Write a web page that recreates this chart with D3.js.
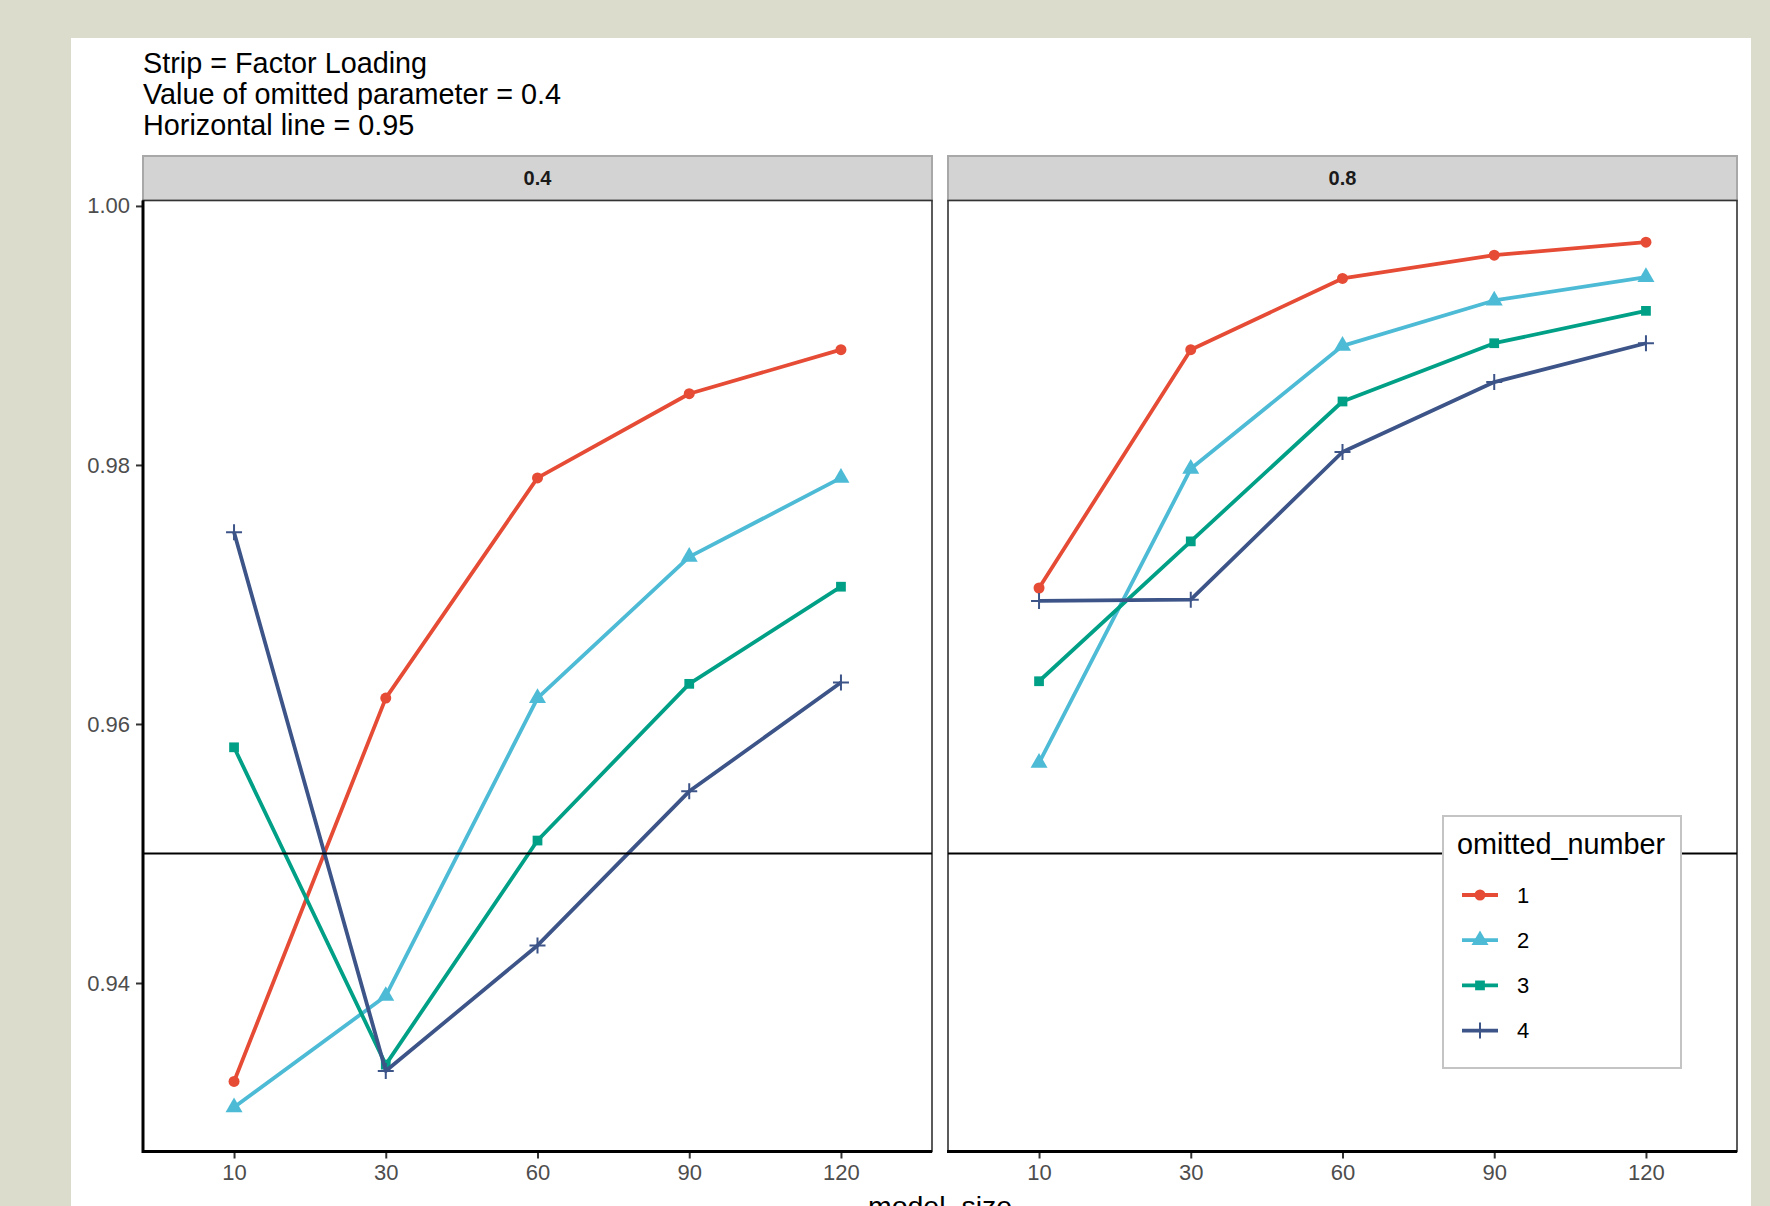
<!DOCTYPE html>
<html>
<head>
<meta charset="utf-8">
<script src="https://cdn.jsdelivr.net/npm/d3@7"></script>
<style>
  html, body { margin: 0; padding: 0; background: #dcdccd; }
  svg { display: block; }
  text { font-family: "Liberation Sans", Arial, Helvetica, sans-serif; }
</style>
</head>
<body>
<svg id="chart" width="1770" height="1206"></svg>
<script>
// ---- data ----
const modelSizes = ["10", "30", "60", "90", "120"];
const facetLabels = ["0.4", "0.8"];
const omittedNumbers = ["1", "2", "3", "4"];
const yTicks = [0.94, 0.96, 0.98, 1.00];
const refLine = 0.95;

// coverage by omitted_number, factor loading 0.4
const load04_om1 = [0.9324, 0.9620, 0.9790, 0.9855, 0.9889];
const load04_om2 = [0.9304, 0.9390, 0.9620, 0.9729, 0.9790];
const load04_om3 = [0.9582, 0.9337, 0.9510, 0.9631, 0.9706];
const load04_om4 = [0.9748, 0.9332, 0.9429, 0.9548, 0.9632];
// coverage by omitted_number, factor loading 0.8
const load08_om1 = [0.9705, 0.9889, 0.9944, 0.9962, 0.9972];
const load08_om2 = [0.9570, 0.9797, 0.9892, 0.9927, 0.9945];
const load08_om3 = [0.9633, 0.9741, 0.9849, 0.9894, 0.9919];
const load08_om4 = [0.9695, 0.9696, 0.9810, 0.9864, 0.9894];

const seriesByFacet = [
  [load04_om1, load04_om2, load04_om3, load04_om4],
  [load08_om1, load08_om2, load08_om3, load08_om4]
];

const palette = ["#E64B35", "#4DBBD5", "#00A087", "#3C5488"];
const shapes = [d3.symbolCircle, d3.symbolTriangle, d3.symbolSquare, "plus"];

// ---- layout ----
const svg = d3.select("#chart");
svg.append("rect").attr("width", 1770).attr("height", 1206).attr("fill", "#dcdccd");
svg.append("rect").attr("x", 71).attr("y", 38).attr("width", 1680).attr("height", 1200).attr("fill", "#ffffff");

const panelTop = 200.5, panelBottom = 1151.5;
const panels = [{x0: 143, x1: 932}, {x0: 948, x1: 1737}];
const stripTop = 156;

const y = d3.scaleLinear().domain([0.92699, 1.00042]).range([panelBottom, panelTop]);

// title block
const titleLines = ["Strip = Factor Loading", "Value of omitted parameter = 0.4", "Horizontal line = 0.95"];
svg.append("g").selectAll("text").data(titleLines).join("text")
  .attr("x", 143).attr("y", (d, i) => 73 + i * 31)
  .attr("font-size", 28.8).attr("fill", "#000").text(d => d);

function markerPath(shape, size) {
  if (shape === "plus") {
    const h = size / 2;
    return `M${-h},0H${h}M0,${-h}V${h}`;
  }
  return d3.symbol().type(shape).size(size)();
}
const markerSize = [95, 125, 95, 16];

panels.forEach((p, fi) => {
  const x = d3.scalePoint().domain(modelSizes).range([p.x0, p.x1]).padding(0.6);
  const g = svg.append("g");

  // strip
  g.append("rect").attr("x", p.x0).attr("y", stripTop).attr("width", p.x1 - p.x0)
    .attr("height", panelTop - stripTop).attr("fill", "#d3d3d3")
    .attr("stroke", "#a8a8a8").attr("stroke-width", 2);
  g.append("text").attr("x", (p.x0 + p.x1) / 2).attr("y", (stripTop + panelTop) / 2)
    .attr("text-anchor", "middle").attr("dominant-baseline", "central")
    .attr("font-size", 20).attr("font-weight", "bold").attr("fill", "#1a1a1a")
    .text(facetLabels[fi]);

  // panel background + thin border
  g.append("rect").attr("x", p.x0).attr("y", panelTop).attr("width", p.x1 - p.x0)
    .attr("height", panelBottom - panelTop).attr("fill", "#fff")
    .attr("stroke", "#333").attr("stroke-width", 1.6);

  // x axis
  const xAxis = d3.axisBottom(x).tickSize(7).tickPadding(6);
  const xa = g.append("g").attr("transform", `translate(0,${panelBottom})`).call(xAxis);
  xa.select(".domain").remove();
  xa.selectAll(".tick line").attr("stroke", "#333").attr("stroke-width", 2);
  xa.selectAll(".tick text").attr("font-size", 22).attr("fill", "#4d4d4d")
    .attr("font-family", "Liberation Sans, Arial, sans-serif");
  g.append("line").attr("x1", p.x0 - 1).attr("x2", p.x1).attr("y1", panelBottom).attr("y2", panelBottom)
    .attr("stroke", "#000").attr("stroke-width", 3);

  if (fi === 0) {
    const yAxis = d3.axisLeft(y).tickValues(yTicks).tickFormat(d3.format(".2f")).tickSize(7).tickPadding(6);
    const ya = g.append("g").attr("transform", `translate(${p.x0},0)`).call(yAxis);
    ya.select(".domain").remove();
    ya.selectAll(".tick line").attr("stroke", "#333").attr("stroke-width", 2);
    ya.selectAll(".tick text").attr("font-size", 22).attr("fill", "#4d4d4d")
      .attr("font-family", "Liberation Sans, Arial, sans-serif");
    g.append("line").attr("x1", p.x0).attr("x2", p.x0).attr("y1", panelTop).attr("y2", panelBottom + 1.5)
      .attr("stroke", "#000").attr("stroke-width", 3);
  }

  // lines and points
  const line = d3.line().x((d, i) => x(modelSizes[i])).y(d => y(d));
  seriesByFacet[fi].forEach((vals, si) => {
    g.append("path").attr("d", line(vals)).attr("fill", "none")
      .attr("stroke", palette[si]).attr("stroke-width", 3.8).attr("stroke-linejoin", "round");
    g.selectAll(null).data(vals).join("path")
      .attr("transform", (d, i) => `translate(${x(modelSizes[i])},${y(d)})`)
      .attr("d", markerPath(shapes[si], markerSize[si]))
      .attr("fill", shapes[si] === "plus" ? "none" : palette[si])
      .attr("stroke", shapes[si] === "plus" ? palette[si] : "none")
      .attr("stroke-width", 2);
  });

  // reference line
  g.append("line").attr("x1", p.x0).attr("x2", p.x1).attr("y1", y(refLine)).attr("y2", y(refLine))
    .attr("stroke", "#000").attr("stroke-width", 2.2);
});

// x axis title
svg.append("text").attr("x", (panels[0].x0 + panels[1].x1) / 2).attr("y", 1216)
  .attr("text-anchor", "middle").attr("font-size", 28.5).attr("fill", "#000").text("model_size");

// legend
const lg = svg.append("g");
lg.append("rect").attr("x", 1443).attr("y", 816).attr("width", 238).attr("height", 252)
  .attr("fill", "#fff").attr("stroke", "#c4c4c4").attr("stroke-width", 2);
lg.append("text").attr("x", 1457).attr("y", 854).attr("font-size", 28.8).attr("fill", "#000")
  .text("omitted_number");
omittedNumbers.forEach((lab, i) => {
  const cy = 895 + i * 45.2;
  lg.append("line").attr("x1", 1462).attr("x2", 1498).attr("y1", cy).attr("y2", cy)
    .attr("stroke", palette[i]).attr("stroke-width", 3.8);
  lg.append("path").attr("transform", `translate(1480,${cy})`)
    .attr("d", markerPath(shapes[i], markerSize[i]))
    .attr("fill", shapes[i] === "plus" ? "none" : palette[i])
    .attr("stroke", shapes[i] === "plus" ? palette[i] : "none").attr("stroke-width", 2);
  lg.append("text").attr("x", 1517).attr("y", cy).attr("dominant-baseline", "central")
    .attr("font-size", 22).attr("fill", "#000").text(lab);
});
</script>
</body>
</html>
